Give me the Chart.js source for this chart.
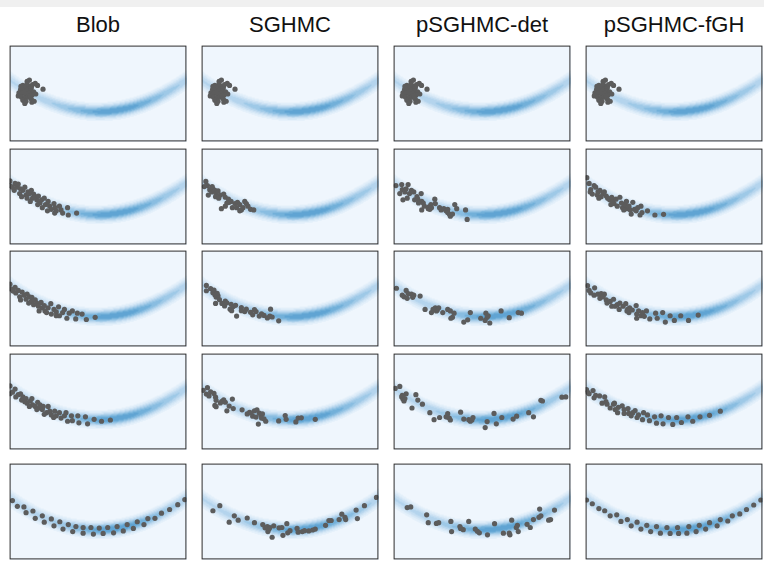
<!DOCTYPE html>
<html>
<head>
<meta charset="utf-8">
<script src="https://cdn.jsdelivr.net/npm/chart.js@4.4.1/dist/chart.umd.min.js"></script>
<style>
  body { margin: 0; background: #fff; width: 764px; height: 561px; overflow: hidden; position: relative; }
  #faixa { position: absolute; left: 0; top: 0; width: 764px; height: 7px; background: #f0f0f0; }
  .titulo { position: absolute; top: 12px; width: 182px; text-align: center; font-family: "Liberation Sans", Arial, sans-serif; font-size: 22px; line-height: 26px; color: #111; }
  canvas { position: absolute; }
</style>
</head>
<body>
<div id="faixa"></div>
<div id="figura"></div>
<script>
// coordinates: x 0..100 across each panel, y 0..100 from the bottom
const columnTitles = ["Blob", "SGHMC", "pSGHMC-det", "pSGHMC-fGH"];

const initialCloud = [[11.2,64],[9.9,62.7],[14.5,60.7],[15.8,58.4],[18.9,54.5],[7.5,58.4],[9,56.8],[10.8,57.4],[12.3,56.1],[6.2,54.1],[8.1,53.5],[9.9,53.5],[11.7,52.8],[13.6,51.8],[5.3,50.8],[7.1,50.2],[9,49.5],[10.8,50.2],[12.6,48.5],[14.8,49.5],[4.9,47.5],[6.8,46.2],[8.6,45.2],[10.4,46.2],[12.3,44.2],[7.5,42.9],[9.3,41.9],[8.6,39.6],[12.6,40.9],[13.9,41.9],[9.9,60.1],[13,59.4],[6.4,57.4],[11.5,47.9]];

const blobR2 = [[0.2,66.3],[0.2,61.4],[3.1,63.7],[2.6,56.4],[4.4,59.7],[5.7,53.1],[6.2,58.1],[7.5,56.4],[8.6,59.7],[9.3,51.5],[10.4,54.8],[11.2,53.1],[12.3,56.4],[13,48.2],[13.6,52.5],[14.5,49.8],[15.4,46.5],[16.3,50.5],[17.2,43.2],[18.1,46.5],[18.5,38.3],[19.6,48.2],[20.3,41.6],[21.8,44.9],[22.7,39.9],[23.6,36.6],[25.1,42.6],[25.8,38.3],[26.4,35],[28.2,39.9],[29.1,36],[30,32.7],[32.8,38.3],[33.2,30.7],[37.9,32.7],[1.6,59.7],[6.8,49.8],[11.7,44.9],[15.9,41.6],[21.4,35],[25.5,32.7],[4.9,63],[9.9,48.2]];
const blobR3 = [[0.2,65],[0.7,60.1],[3.1,61.7],[3.5,55.8],[4.9,58.4],[5.7,51.8],[7.1,56.8],[8.1,53.5],[9.3,49.2],[9.9,54.5],[11.2,51.8],[12.3,46.9],[12.6,51.2],[13.6,43.6],[14.5,48.5],[15.4,45.2],[16.3,41.9],[17.8,45.9],[18.5,40.3],[19.6,42.6],[20,37],[21.8,40.3],[23.3,44.6],[23.6,33.7],[25.1,38.6],[26.4,36],[27.7,41.3],[28.2,32],[30,35.3],[31,38.6],[32.4,29.4],[33.7,34.7],[35.5,37],[37.4,28.7],[38.3,34.7],[41,33.7],[43.4,28.1],[48.4,30.4],[2,57.8],[6.2,48.5],[10.8,45.2],[16.7,37],[20.9,35.3],[26.4,32]];
const blobR4 = [[0.2,66.3],[0.2,58.1],[3.1,63],[3.5,54.8],[6.2,58.1],[6.8,51.5],[7.5,54.8],[9.3,53.1],[9.9,48.2],[11.7,50.5],[12.6,53.1],[13,46.5],[14.5,44.9],[15.9,49.2],[16.7,43.2],[17.2,46.5],[18.5,41.6],[19,44.9],[20.9,38.3],[21.8,44.9],[22.7,39.9],[23.6,36],[25.5,39.9],[26.4,35],[28.2,38.3],[29.1,32.7],[31,35],[31.9,38.3],[32.8,29.4],[35,35],[35.5,30],[38.6,35],[39.2,27.7],[42.9,34],[44.1,26.7],[47.8,31.4],[52,29.4],[57,30.7],[1.6,59.7],[4.9,57.1],[8.6,49.8],[11.2,44.9],[15.4,41.6],[19.6,36.6],[24.9,33.3]];
const blobR5 = [[1.6,61.4],[4.4,55.4],[8.1,54.8],[9.3,48.8],[13.2,50.5],[14.5,42.9],[18.5,45.5],[19.6,38.9],[23.6,42.2],[25.1,35],[28.4,39.3],[30.2,31.7],[33.2,36.3],[35.7,29],[37.5,34.3],[41.6,33.3],[41.6,27.4],[46,33.3],[47.4,26.4],[50.7,32.7],[52.9,27.1],[55.5,33.3],[58.8,27.7],[60.8,34.3],[64.3,29.7],[66.5,36.3],[70,32.3],[72.2,39.3],[76,36.3],[78.2,42.6],[82.2,42.9],[85.9,48.2],[90.5,52.1],[95.1,57.1],[99.1,62.4]];

const sghmcR2 = [[2.4,65.7],[1.5,60.4],[3.3,61.4],[4.6,57.1],[5.7,54.8],[6.4,58.1],[7.5,56.4],[8.2,53.1],[9.3,55.8],[3.8,51.5],[7.9,49.8],[10.6,51.5],[12.5,52.5],[13.4,49.2],[15.2,47.2],[15.6,43.9],[16.7,44.9],[17.4,38.3],[11.2,37.3],[13.4,39.9],[18.9,42.6],[20.3,43.9],[21.6,41.6],[22.5,36],[23.4,38.3],[24.4,44.9],[25.3,42.6],[26.2,39.9],[27.7,36.6],[29.5,36],[21.6,35],[6,60.4],[9.7,48.2],[14.3,43.2],[19.8,38.3]];
const sghmcR3 = [[2.7,63.7],[2.7,58.1],[5.1,60.4],[6.4,56.1],[7.5,53.8],[8.2,51.5],[9.3,52.8],[7.9,44.9],[10.1,48.8],[13,42.2],[13.4,47.2],[14.3,45.5],[16.7,43.9],[16.1,38.9],[17.9,41.6],[19.8,31.7],[19.2,42.9],[22.5,40.6],[24.4,36.3],[25.3,38.9],[27.7,35.6],[28.9,33],[29.9,38.3],[30.8,36.3],[33.9,34],[35.3,32.3],[37.2,29.7],[39,38.9],[38.6,31.7],[39.9,30.7],[43.6,26.7],[7,58.7],[11.5,44.9],[17,37.3],[22.5,37.3],[32.6,31.7],[8.8,55.4]];
const sghmcR4 = [[0.9,61.7],[3.3,64.4],[2.7,57.8],[4.2,55.8],[7,58.4],[7.9,54.5],[8.2,51.2],[7.5,45.9],[8.2,44.6],[11.5,50.2],[12.5,51.8],[13.4,49.2],[14.3,40.3],[15.6,45.2],[17.4,52.5],[17.9,42.6],[22.9,41.3],[25.8,37],[27.1,38.6],[28.9,34.7],[29.9,40.3],[31.3,41.3],[32.6,38],[33.5,36],[34.4,37],[35.3,32],[36.3,29.4],[32.1,26.4],[30.8,33.7],[43.6,29.7],[47.3,35.3],[47.8,31.4],[53.3,28.7],[54.6,32.7],[56.4,33],[64.3,31.4],[5.1,60.1],[10.6,48.5],[28,38],[33.9,32.7]];
const sghmcR5 = [[6.4,50.8],[10.3,56.1],[15.6,38.9],[18.5,45.5],[20.7,40.9],[25.8,43.2],[29.9,38.3],[34.6,36.3],[35.9,33],[37.2,34.3],[37.5,29],[38.6,33.3],[39.9,23.1],[40.8,35],[43.8,33],[45.4,33.3],[46,25.1],[48.2,37.3],[48.7,27.7],[54,32.3],[54.6,28.4],[57,29],[60.6,29.7],[62.8,30.7],[64.3,31.7],[70.1,35.6],[72,40.6],[73.3,40.6],[77.8,41.6],[79.3,47.2],[81.1,43.9],[81.5,41.6],[88.1,42.6],[87.4,51.5],[92.1,56.1],[98.9,64.7],[38.1,31.7],[50,30],[58.2,30]];

const detR2 = [[1.3,61.4],[4.6,62.4],[8.2,62.4],[3.5,53.1],[4.9,57.1],[6.4,54.8],[5.3,46.5],[7.7,48.2],[9,53.1],[10.1,56.4],[11.4,54.8],[11.9,46.5],[13.2,49.8],[13.7,47.2],[15.6,53.1],[15.9,44.9],[15.9,36],[16.8,43.2],[17.4,39.9],[19.6,37.3],[20,39.3],[21.1,41.6],[20.5,36.6],[23.3,47.2],[23.6,42.6],[26,38.3],[26.9,36],[28.4,37.3],[29.7,35],[30.6,36.6],[31.5,31.7],[32.1,29.4],[33.3,31.7],[34.6,41.6],[35.7,37.3],[40.7,36],[41.6,26.1],[7.1,58.1],[14.1,43.2],[21.4,38.3],[30.6,33.3]];
const detR3 = [[1.6,60.7],[7.1,58.4],[8.2,55.1],[5.9,51.8],[7.7,50.2],[10.1,54.5],[11.4,53.5],[10.8,51.2],[15,52.5],[17.8,38.6],[21.4,35.3],[23.6,40.3],[24.7,38],[25.5,40.3],[24.2,37],[27.8,35.3],[30.6,38.6],[32.1,37],[33.3,30.4],[34.2,34.7],[32.4,29.4],[39.7,25.4],[41.9,27.7],[43.4,35.3],[49.3,29.4],[52.2,34.7],[52.9,30.4],[51.8,27.1],[54.4,24.4],[60.8,37],[65.4,30],[70.5,35.3],[72.3,34.7],[4.9,53.5],[22.3,38.6],[53.5,32]];
const detR4 = [[0.9,63.7],[3.5,65.7],[4.6,54.8],[5.3,52.5],[5.9,50.5],[7.1,58.1],[6.4,53.1],[10.4,43.2],[12.6,57.1],[13.7,51.5],[16.3,47.2],[20.5,38.3],[22.9,31],[26,33.3],[29.7,34],[30.6,37.3],[31.5,32.7],[32.1,30.7],[37.9,38.9],[39.7,31.7],[42.5,31],[43.4,29.4],[44.9,33.3],[51.8,22.8],[52.9,29],[56.8,37.6],[58.1,26.7],[61.2,33.3],[67.6,31.7],[69.6,34.7],[76.4,38.3],[79.1,34],[83.3,51.2],[84.2,50.5],[95.2,54.5],[97.4,54.8],[4.9,56.4],[30.2,34],[44.3,30.7]];
const detR5 = [[7.7,54.1],[9.7,54.8],[18.7,46.5],[19.6,38.3],[24.2,37.6],[25.5,38.3],[32.4,39.6],[32.8,29],[37.5,34.3],[39.4,31],[42.5,39.6],[46.2,31.7],[47.4,29.4],[48.5,27.7],[53.1,25.7],[57.1,37.3],[62.1,27.4],[65.4,27.4],[65.8,25.7],[66.8,40.9],[69.4,33.3],[70,35.6],[70.5,29],[75.5,36.6],[77.3,33.3],[79.1,41.6],[82.2,43.9],[83.3,45.5],[82.6,52.5],[87.7,40.9],[88.8,41.6],[91,51.5],[37.9,32.3]];

const fghR2 = [[0.7,69.6],[2,63.7],[2.9,57.1],[2.6,54.8],[4.8,61.4],[5.7,59.7],[3.8,52.5],[6.6,51.5],[7,54.8],[8.1,56.4],[8.8,49.8],[9.9,53.1],[10.6,54.8],[11.7,50.5],[12.5,48.2],[13.6,46.5],[14.3,41.6],[15.4,44.9],[16.1,42.6],[17.2,47.2],[17.9,39.9],[19.4,49.2],[20.3,43.2],[20.9,38.3],[22.2,41.6],[23.1,44.9],[23.4,37.3],[24.5,39.9],[25.3,36],[25.8,31.7],[26.7,43.9],[27.7,36.6],[28.6,35],[30.8,30.7],[31.3,39.9],[31.9,33.3],[35,35],[39.2,30.7],[44.1,31.4],[7.5,48.2],[14.8,49.2],[21.6,36],[29.5,38.3]];
const fghR3 = [[1.1,63.4],[2,58.4],[5.1,61.1],[4.8,53.5],[7,54.5],[8.1,50.2],[8.8,55.1],[10.6,54.5],[11.7,48.5],[12.1,45.2],[13.9,46.9],[14.8,41.9],[15.8,49.2],[17.9,43.6],[19,38.6],[19.4,45.2],[21.2,41.9],[22.7,44.6],[23.4,37],[24.5,35.3],[24.9,40.3],[26.4,38],[28.6,42.6],[28.9,33.7],[28.9,29.4],[30,37],[31.3,32],[33.2,31.4],[34.4,37],[36.3,28.7],[39.6,34.7],[40.5,29.4],[43.6,35.3],[45.1,25.4],[47.8,32],[50.2,27.1],[53.8,32],[58.2,27.1],[63.7,32.7],[2.9,55.8],[9.9,51.8],[16.7,41.9],[23.8,38.6],[32.2,35.3]];
const fghR4 = [[0.5,62.4],[1.1,59.7],[4.2,61.4],[5.7,56.4],[4.8,53.8],[7.9,55.8],[10.8,54.8],[9.3,48.2],[11.5,49.8],[12.1,47.2],[13.9,43.2],[15.8,47.2],[16.3,48.2],[18.5,43.9],[18.1,38.3],[20.7,45.5],[21.8,41.6],[21.8,37.6],[24,42.6],[24.4,37.6],[25.8,35],[28,40.6],[29.1,33.3],[29.9,36],[32.2,31],[32.8,38.3],[35,36],[36.1,30],[39,34],[40.1,27.4],[42.7,35],[43.8,26.7],[46.9,33.3],[49.3,26.1],[51.5,33.3],[54.2,28.1],[57.9,34],[60.6,29.4],[64.7,34],[70.1,35.6],[76.2,39.9],[2,58.1],[16.7,41.6],[26.7,38.3]];
const fghR5 = [[0.5,62],[3.8,58.1],[7.5,53.1],[10.8,50.8],[13.9,45.5],[17.6,46.5],[20,39.6],[23.6,41.6],[25.8,35],[29.1,38.9],[31.3,31.7],[34.6,35.6],[36.8,29],[40.1,34.3],[42.3,27.4],[46,33.3],[47.8,27.1],[52,33.3],[52.6,27.1],[57.3,27.4],[58.4,34.3],[62.5,29],[64.3,35.6],[67.9,31.7],[70.1,38.3],[74.4,35],[76.2,41.6],[80.4,40.1],[83,45.5],[87.2,47.5],[91,52.1],[95.1,56.8],[99.1,62]];

const gridData = [
    [initialCloud, initialCloud, initialCloud, initialCloud],
    [blobR2, sghmcR2, detR2, fghR2],
    [blobR3, sghmcR3, detR3, fghR3],
    [blobR4, sghmcR4, detR4, fghR4],
    [blobR5, sghmcR5, detR5, fghR5]
];

const colLeft = [7, 199, 391, 583];
const rowTop = [43, 146, 248, 351, 461];
const LARG = 182, ALT = 101;

// banana shaped target density, drawn as a stepped colour map
const stops = [[239,246,253],[216,233,247],[188,216,239],[150,197,229],[110,173,216],[78,153,205]];
function densidade(x, y) {
    const u = (x - 50) / 50;
    const yc = 31 + 33 * u * u;
    const slope = 66 * (x - 50) / 2500 * (1.01 / 1.82);
    const d = (y - yc) / Math.sqrt(1 + slope * slope);
    const amp = 0.45 + 0.55 * Math.exp(-Math.pow((x - 60) / 28, 2));
    return amp * Math.exp(-d * d / (2 * 4.6 * 4.6));
}
function cor(t) {
    const niveis = 9;
    t = Math.floor(t * niveis) / niveis;
    const p = t * (stops.length - 1);
    const i = Math.min(Math.floor(p), stops.length - 2);
    const f = p - i;
    return stops[i].map((c, k) => Math.round(c + (stops[i + 1][k] - c) * f));
}

const fundoPlugin = {
    id: "fundo",
    beforeDatasetsDraw(chart) {
        const a = chart.chartArea;
        const sx = chart.scales.x, sy = chart.scales.y;
        const w = Math.round(a.right - a.left), h = Math.round(a.bottom - a.top);
        const off = document.createElement("canvas");
        off.width = w; off.height = h;
        const octx = off.getContext("2d");
        const img = octx.createImageData(w, h);
        for (let j = 0; j < h; j++) {
            const yv = sy.getValueForPixel(a.top + j + 0.5);
            for (let i = 0; i < w; i++) {
                const xv = sx.getValueForPixel(a.left + i + 0.5);
                const c = cor(densidade(xv, yv));
                const k = (j * w + i) * 4;
                img.data[k] = c[0]; img.data[k + 1] = c[1]; img.data[k + 2] = c[2]; img.data[k + 3] = 255;
            }
        }
        octx.putImageData(img, 0, 0);
        chart.ctx.drawImage(off, a.left, a.top);
    },
    afterDatasetsDraw(chart) {
        const a = chart.chartArea, ctx = chart.ctx;
        ctx.save();
        ctx.strokeStyle = "#2e2e2e";
        ctx.lineWidth = 1;
        ctx.strokeRect(a.left + 0.5, a.top + 0.5, a.right - a.left - 1, a.bottom - a.top - 1);
        ctx.restore();
    }
};

const figura = document.getElementById("figura");

columnTitles.forEach((t, c) => {
    const div = document.createElement("div");
    div.className = "titulo";
    div.style.left = colLeft[c] + "px";
    div.textContent = t;
    figura.appendChild(div);
});

for (let r = 0; r < gridData.length; r++) {
    for (let c = 0; c < 4; c++) {
        const canvas = document.createElement("canvas");
        canvas.width = LARG;
        canvas.height = ALT;
        canvas.style.left = colLeft[c] + "px";
        canvas.style.top = rowTop[r] + "px";
        figura.appendChild(canvas);

        new Chart(canvas.getContext("2d"), {
            type: "scatter",
            data: {
                datasets: [{
                    data: gridData[r][c].map(p => ({x: p[0], y: p[1]})),
                    backgroundColor: "#5c5c5c",
                    borderWidth: 0,
                    pointRadius: 2.6,
                    pointHoverRadius: 2.6
                }]
            },
            options: {
                responsive: false,
                animation: false,
                events: [],
                layout: {padding: 0},
                plugins: {legend: {display: false}, tooltip: {enabled: false}},
                scales: {
                    x: {type: "linear", min: 0, max: 100, display: false},
                    y: {type: "linear", min: 0, max: 100, display: false}
                }
            },
            plugins: [fundoPlugin]
        });
    }
}
</script>
</body>
</html>
